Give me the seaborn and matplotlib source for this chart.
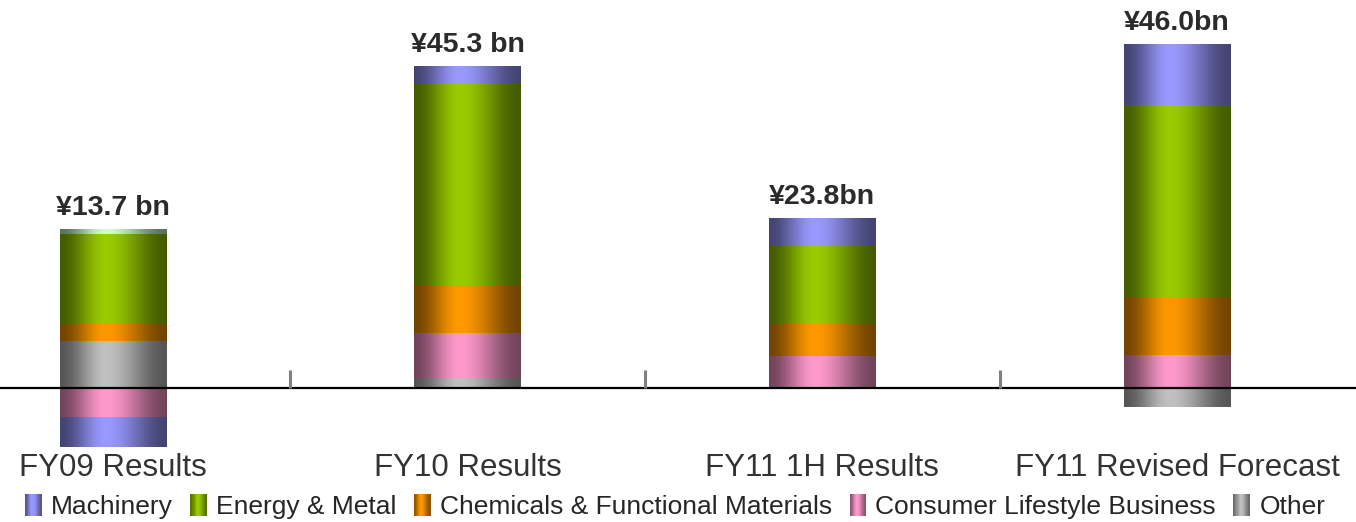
import numpy as np
import pandas as pd
import matplotlib
matplotlib.use("Agg")
import matplotlib.pyplot as plt
import seaborn as sns
from matplotlib.patches import Rectangle
from matplotlib.legend_handler import HandlerBase

# ---------------- data ----------------
categories = ["FY09 Results", "FY10 Results", "FY11 1H Results", "FY11 Revised Forecast"]
other = [6.6, 1.4, 0.3, -2.7]
consumer = [-4.2, 6.3, 4.2, 4.6]
chemicals = [2.5, 6.8, 4.6, 8.3]
energy = [12.7, 28.6, 11.0, 27.1]
machinery = [-4.1, 2.3, 3.9, 8.5]
cap = [0.65, 0.0, 0.0, 0.0]  # thin unlabeled highlight band on FY09
total_labels = ["¥13.7 bn", "¥45.3 bn", "¥23.8bn", "¥46.0bn"]
legend_order = ["Machinery", "Energy & Metal", "Chemicals & Functional Materials",
                "Consumer Lifestyle Business", "Other"]

colors = {
    "Machinery": "#9999ff",
    "Energy & Metal": "#99cc00",
    "Chemicals & Functional Materials": "#ff9900",
    "Consumer Lifestyle Business": "#ff99cc",
    "Other": "#c0c0c0",
    "cap": "#ccffcc",
}

series = {
    "Other": other,
    "Consumer Lifestyle Business": consumer,
    "Chemicals & Functional Materials": chemicals,
    "Energy & Metal": energy,
    "Machinery": machinery,
    "cap": cap,
}

# cylinder-like horizontal shading profile (dark edges, bright left-of-centre)
t = np.linspace(0, 1, 160)
peak = 0.43
d = np.where(t < peak, (peak - t) / peak, (t - peak) / (1 - peak))
x = 1 - d
shade = 0.45 + 0.55 * (3 * x ** 2 - 2 * x ** 3)

# ---------------- figure ----------------
sns.set_theme(style="white")
plt.rcParams["font.family"] = ["Liberation Sans", "DejaVu Sans"]

W, H = 1356, 522
fig = plt.figure(figsize=(W / 100, H / 100), dpi=100)
ax_bottom_px = 450
ax = fig.add_axes([0, (H - ax_bottom_px) / H, 1, ax_bottom_px / H])

k = 7.08  # px per bn
base_px = 388
ymin = -(ax_bottom_px - base_px) / k
ymax = base_px / k

pos_bottom = np.zeros(len(categories))
neg_bottom = np.zeros(len(categories))
bar_width = 0.3
for name, vals in series.items():
    vals = np.asarray(vals, dtype=float)
    bottoms = np.where(vals >= 0, pos_bottom, neg_bottom)
    df = pd.DataFrame({"cat": categories, "val": vals})
    sns.barplot(data=df, x="cat", y="val", order=categories, color=colors[name],
                bottom=bottoms, width=bar_width, errorbar=None, ax=ax,
                linewidth=0, saturation=1, zorder=2)
    pos_bottom = pos_bottom + np.where(vals >= 0, vals, 0)
    neg_bottom = neg_bottom + np.where(vals < 0, vals, 0)

for p in list(ax.patches):
    x0, y0 = p.get_x(), p.get_y()
    w, h = p.get_width(), p.get_height()
    if abs(h) < 1e-9:
        continue
    rgb = np.array(p.get_facecolor()[:3])
    img = rgb[None, None, :] * shade[None, :, None]
    ylo, yhi = min(y0, y0 + h), max(y0, y0 + h)
    ax.imshow(img, extent=[x0, x0 + w, ylo, yhi], aspect="auto",
              interpolation="bilinear", zorder=2.5)

# total labels
for i, lab in enumerate(total_labels):
    ax.annotate(lab, xy=(i, pos_bottom[i]), xytext=(0, 6), textcoords="offset points",
                ha="center", va="bottom", fontsize=20.5, fontweight="bold", color="#2b2b2b")

# baseline and separators
ax.axhline(0, color="black", lw=1.6, zorder=4)
ax.vlines([0.5, 1.5, 2.5], 0, 18 / k, color="#808080", lw=2.2, zorder=4)

ax.set_xlim(-113 / 354.7, 3 + (W - 1177) / 354.7)
ax.set_ylim(ymin, ymax)
for s in ax.spines.values():
    s.set_visible(False)
ax.set_yticks([])
ax.set_xticks(range(len(categories)))
ax.set_xticklabels(categories, fontsize=22.5, color="#333333")
ax.tick_params(axis="x", length=0, pad=2)
ax.set_xlabel("")
ax.set_ylabel("")


# legend with shaded swatches
class ShadedHandler(HandlerBase):
    def create_artists(self, legend, orig_handle, xdescent, ydescent, width, height,
                       fontsize, trans):
        rgb = np.array(matplotlib.colors.to_rgb(orig_handle.get_facecolor()))
        n = 16
        arts = []
        for j in range(n):
            f = shade[int((j + 0.5) / n * (len(shade) - 1))]
            r = Rectangle((-xdescent + j * width / n, -ydescent), width / n * 1.05, height,
                          facecolor=np.clip(rgb * (0.55 + 0.45 * (f - 0.45) / 0.55), 0, 1),
                          edgecolor="none", transform=trans)
            arts.append(r)
        return arts


handles = [Rectangle((0, 0), 1, 1, facecolor=colors[n], edgecolor="none") for n in legend_order]
fig.legend(handles, legend_order, loc="lower center", bbox_to_anchor=(0.498, -0.03),
           ncol=5, frameon=False, fontsize=19, handlelength=0.62, handleheight=0.95,
           handletextpad=0.36, columnspacing=0.66, borderpad=0.2,
           handler_map={Rectangle: ShadedHandler()})

fig.savefig("out.png", dpi=100)
